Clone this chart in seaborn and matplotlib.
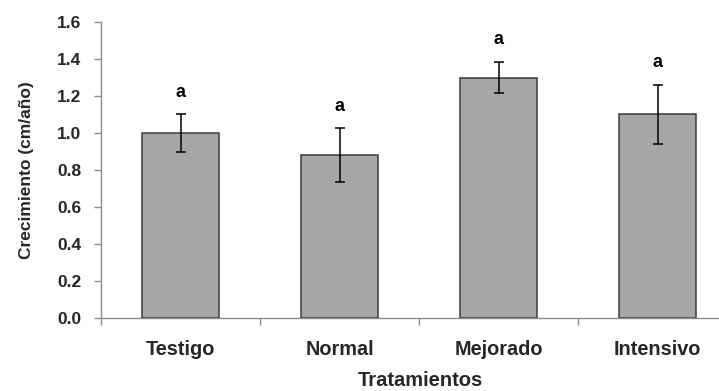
import matplotlib
matplotlib.use("Agg")
import matplotlib.pyplot as plt
import seaborn as sns
import pandas as pd

# Growth per treatment, with error and significance letters
tratamientos = ["Testigo", "Normal", "Mejorado", "Intensivo"]
crecimiento = [1.00, 0.88, 1.30, 1.10]
error = [0.10, 0.145, 0.083, 0.16]
letras = ["a", "a", "a", "a"]
y_ticks = [0.0, 0.2, 0.4, 0.6, 0.8, 1.0, 1.2, 1.4, 1.6]

sns.set_style("white")
plt.rcParams["font.family"] = ["Liberation Sans", "DejaVu Sans"]

df = pd.DataFrame({"Tratamiento": tratamientos, "Crecimiento": crecimiento})

fig = plt.figure(figsize=(7.19, 3.91), dpi=100)
ax = fig.add_axes([101 / 719, 1 - 318 / 391, 1 - 101 / 719, (318 - 22) / 391])

sns.barplot(data=df, x="Tratamiento", y="Crecimiento", color="#a6a6a6",
            width=0.48, edgecolor="#3a3a3a", linewidth=1.1, errorbar=None,
            saturation=1, ax=ax)
ax.errorbar(range(len(tratamientos)), crecimiento, yerr=error, fmt="none",
            ecolor="black", elinewidth=1.1, capsize=3.3, capthick=1.1)

for i, (v, e, l) in enumerate(zip(crecimiento, error, letras)):
    ax.text(i, v + e + 0.12, l, ha="center", va="center",
            fontsize=13, fontweight="bold", color="black")

ax.set_ylim(0, 1.6)
ax.set_xlim(-0.5, -0.5 + 618 / 159)
ax.set_yticks(y_ticks)
ax.set_yticklabels([f"{t:.1f}" for t in y_ticks], fontsize=12.5, fontweight="bold")
ax.set_xticks(range(len(tratamientos)))
ax.set_xticklabels(tratamientos, fontsize=14.3, fontweight="bold")
ax.tick_params(axis="x", length=0, pad=16)
ax.tick_params(axis="y", length=5, color="#8c8c8c", width=1, pad=9, left=True)

# category separator ticks on the x axis
ax.set_xticks([-0.5, 0.5, 1.5, 2.5], minor=True)
ax.tick_params(axis="x", which="minor", length=5, color="#8c8c8c", width=1, bottom=True)

for side in ["top", "right"]:
    ax.spines[side].set_visible(False)
for side in ["left", "bottom"]:
    ax.spines[side].set_color("#8c8c8c")
    ax.spines[side].set_linewidth(1)

ax.set_xlabel("Tratamientos", fontsize=14.5, fontweight="bold")
# the category axis continues past the right edge, so the title sits at its full-width centre
ax.xaxis.set_label_coords((420 - 101) / 618, -(371 - 318) / 296)
ax.set_ylabel("Crecimiento (cm/año)", fontsize=12.5, fontweight="bold", labelpad=17)

fig.savefig("out.png", dpi=100)
